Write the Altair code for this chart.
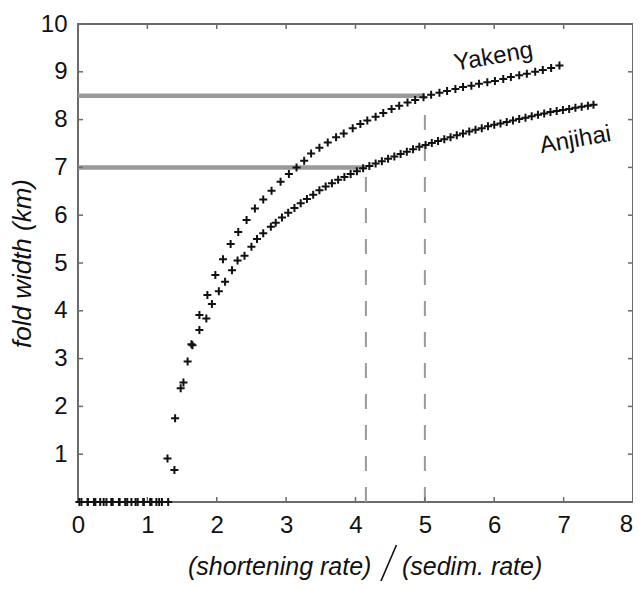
import altair as alt
import pandas as pd

FONT = "Liberation Sans"
FRAME = "#6b6b6b"
GUIDE = "#999999"
INK = "#111111"

# ---- data ----
yak_x = [0.02, 0.14, 0.25, 0.37, 0.48, 0.60, 0.71, 0.83, 0.94, 1.06, 1.17,
         1.29, 1.40, 1.52, 1.635, 1.75, 1.865, 1.98, 2.09, 2.20, 2.31,
         2.43, 2.55, 2.67, 2.79, 2.92, 3.04, 3.15, 3.26, 3.36, 3.48,
         3.60, 3.72, 3.83, 3.96, 4.07, 4.17, 4.29, 4.40, 4.52, 4.63,
         4.75, 4.86, 4.98, 5.09, 5.21, 5.32, 5.44, 5.55, 5.67, 5.78,
         5.90, 6.01, 6.13, 6.24, 6.36, 6.47, 6.59, 6.70, 6.82, 6.94]
yak_y = [0, 0, 0, 0, 0, 0, 0, 0, 0, 0, 0,
         0.91, 1.75, 2.50, 3.30, 3.91, 4.33, 4.75, 5.08, 5.40, 5.65,
         5.90, 6.14, 6.33, 6.51, 6.70, 6.86, 7.00, 7.14, 7.29, 7.41,
         7.52, 7.63, 7.71, 7.82, 7.91, 7.98, 8.06, 8.14, 8.22, 8.29,
         8.36, 8.41, 8.47, 8.52, 8.56, 8.60, 8.64, 8.68, 8.71, 8.75,
         8.78, 8.81, 8.85, 8.89, 8.93, 8.96, 9.00, 9.04, 9.08, 9.13]

anj_x = [0.05, 0.14, 0.23, 0.32, 0.41, 0.50, 0.59, 0.68, 0.77, 0.86, 0.95, 1.04, 1.13, 1.21, 1.30,
         1.39, 1.48, 1.58, 1.65, 1.75, 1.85, 1.93, 2.03, 2.12, 2.22, 2.30, 2.40, 2.50, 2.58, 2.67, 2.78, 2.85,
         2.94, 3.03, 3.12, 3.21, 3.30, 3.39, 3.48, 3.57, 3.66, 3.75,
         3.84, 3.93, 4.02, 4.11, 4.20, 4.29, 4.38, 4.47, 4.56, 4.65,
         4.74, 4.83, 4.92, 5.01, 5.10, 5.19, 5.28, 5.37, 5.46, 5.55,
         5.64, 5.73, 5.82, 5.91, 6.00, 6.09, 6.18, 6.27, 6.36, 6.45,
         6.54, 6.63, 6.72, 6.81, 6.90, 6.99, 7.08, 7.17, 7.26, 7.35, 7.43]
anj_y = [0, 0, 0, 0, 0, 0, 0, 0, 0, 0, 0, 0, 0, 0, 0,
         0.67, 2.38, 2.94, 3.28, 3.60, 3.84, 4.14, 4.41, 4.61, 4.85, 5.05, 5.15, 5.34, 5.50, 5.62, 5.76, 5.84,
         5.95, 6.05, 6.15, 6.25, 6.34, 6.43, 6.52, 6.60, 6.67, 6.74,
         6.80, 6.86, 6.92, 6.98, 7.03, 7.08, 7.13, 7.18, 7.23, 7.28,
         7.33, 7.38, 7.43, 7.47, 7.51, 7.55, 7.59, 7.63, 7.67, 7.71,
         7.75, 7.79, 7.82, 7.86, 7.89, 7.92, 7.95, 7.98, 8.01, 8.04,
         8.07, 8.10, 8.13, 8.16, 8.18, 8.20, 8.22, 8.25, 8.27, 8.29, 8.31]

x_ticks = [0, 1, 2, 3, 4, 5, 6, 7, 8]
x_labels = [0, 1, 2, 3, 4, 5, 6, 7]
x_last_label = [8]
y_ticks = [0, 1, 2, 3, 4, 5, 6, 7, 8, 9, 10]
y_labels = [1, 2, 3, 4, 5, 6, 7, 8, 9, 10]

guide_level = [8.5, 7.0]
guide_end = [5.0, 4.15]

curve_names = ["Yakeng", "Anjihai"]
curve_label_x = [5.99, 7.17]
curve_label_y = [9.31, 7.57]

xtitle_left = "(shortening rate)"
xtitle_right = "(sedim. rate)"
xtitle_left_x = [4.23]
xtitle_right_x = [4.67]
xtitle_y = [-1.53]
slash_x = [4.33]
slash_x2 = [4.59]
slash_y = [-1.78]
slash_y2 = [-0.90]

# ---- tables ----
pts = pd.DataFrame({
    "x": yak_x + anj_x,
    "y": yak_y + anj_y,
    "series": ["Yakeng"] * len(yak_x) + ["Anjihai"] * len(anj_x),
})
hl = pd.DataFrame({"x": [0.0, 0.0], "x2": guide_end, "y": guide_level})
vl = pd.DataFrame({"x": guide_end, "y": [0.0, 0.0], "y2": guide_level})
lab = pd.DataFrame({"x": curve_label_x, "y": curve_label_y, "t": curve_names})
xt = pd.DataFrame({"x": x_ticks})
yt = pd.DataFrame({"y": y_ticks})
last = pd.DataFrame({"x": x_last_label, "y": [0], "t": [str(v) for v in x_last_label]})
tl = pd.DataFrame({"x": xtitle_left_x, "y": xtitle_y, "t": [xtitle_left]})
tr = pd.DataFrame({"x": xtitle_right_x, "y": xtitle_y, "t": [xtitle_right]})
sl = pd.DataFrame({"x": slash_x, "x2": slash_x2, "y": slash_y, "y2": slash_y2})

W, H = 555, 478
xs = alt.Scale(domain=[0, 8], nice=False, zero=False)
ys = alt.Scale(domain=[0, 10], nice=False, zero=False)

XAX = alt.Axis(
    values=x_labels, title=None, grid=False, domain=False, ticks=False, tickSize=0,
    labelFontSize=24, labelFont=FONT, labelColor=INK, labelPadding=11,
    labelFlush=False, labelOverlap=False, format="d")
YAX = alt.Axis(
    values=y_labels, title="fold width (km)", grid=False, domain=False, ticks=False,
    tickSize=0, labelFontSize=24, labelFont=FONT, labelColor=INK, labelPadding=11,
    labelFlush=False, labelOverlap=False, format="d",
    titleFont=FONT, titleFontSize=26, titleFontStyle="italic", titleFontWeight="normal",
    titleColor=INK, titlePadding=5)


def X(field="x"):
    return alt.X(f"{field}:Q", scale=xs, axis=XAX)


def Y(field="y"):
    return alt.Y(f"{field}:Q", scale=ys, axis=YAX)


hlines = alt.Chart(hl).mark_rule(color=GUIDE, strokeWidth=4.5).encode(
    x=X(), x2="x2:Q", y=Y())

vlines = alt.Chart(vl).mark_rule(color=GUIDE, strokeWidth=2, strokeDash=[15, 16]).encode(
    x=X(), y=Y(), y2="y2:Q")

points = alt.Chart(pts).mark_point(
    shape="M-1,0L1,0M0,-1L0,1", size=64, filled=False, color=INK,
    strokeWidth=2, opacity=1).encode(x=X(), y=Y())

bt = alt.Chart(xt).mark_rule(color=FRAME, strokeWidth=1.5).encode(
    x=X(), y=alt.value(H), y2=alt.value(H - 5))
tt = alt.Chart(xt).mark_rule(color=FRAME, strokeWidth=1.5).encode(
    x=X(), y=alt.value(0), y2=alt.value(5))
lt = alt.Chart(yt).mark_rule(color=FRAME, strokeWidth=1.5).encode(
    y=Y(), x=alt.value(0), x2=alt.value(5))
rt = alt.Chart(yt).mark_rule(color=FRAME, strokeWidth=1.5).encode(
    y=Y(), x=alt.value(W), x2=alt.value(W - 5))

last_label = alt.Chart(last).mark_text(
    font=FONT, fontSize=24, color=INK, align="right", baseline="top", dy=11).encode(
    x=X(), y=Y(), text="t:N")

labels = alt.Chart(lab).mark_text(
    font=FONT, fontSize=24, color=INK, angle=350, align="center", baseline="middle").encode(
    x=X(), y=Y(), text="t:N")

title_l = alt.Chart(tl).mark_text(
    font=FONT, fontSize=25, fontStyle="italic", color=INK, align="right",
    baseline="alphabetic").encode(x=X(), y=Y(), text="t:N")
title_r = alt.Chart(tr).mark_text(
    font=FONT, fontSize=25, fontStyle="italic", color=INK, align="left",
    baseline="alphabetic").encode(x=X(), y=Y(), text="t:N")
slash = alt.Chart(sl).mark_rule(color=INK, strokeWidth=1.6).encode(
    x=X(), x2="x2:Q", y=Y(), y2="y2:Q")

chart = alt.layer(
    hlines, vlines, bt, tt, lt, rt, points, last_label, labels, title_l, title_r, slash
).properties(
    width=W, height=H,
    autosize=alt.AutoSizeParams(type="none"),
    padding={"left": 70, "top": 16, "right": 0, "bottom": 79},
    background="white",
).configure_view(stroke=FRAME, strokeWidth=2)

chart.save("out.html", embed_options={"renderer": "svg", "actions": False})
